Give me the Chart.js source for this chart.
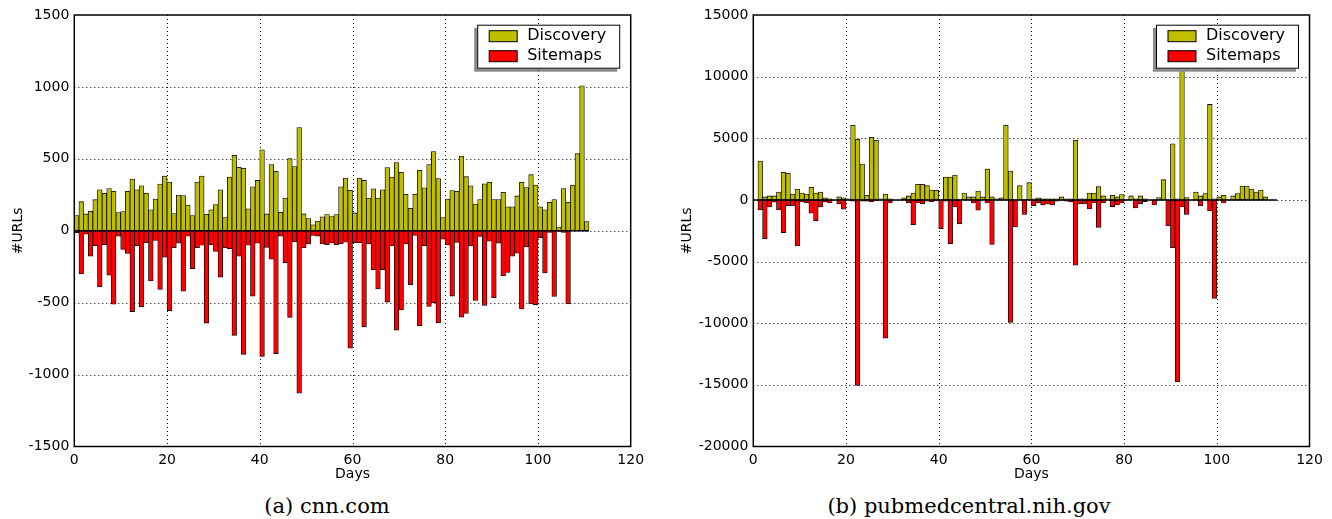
<!DOCTYPE html>
<html>
<head>
<meta charset="utf-8">
<title>Discovery vs Sitemaps</title>
<script src="https://cdn.jsdelivr.net/npm/chart.js@4.4.0/dist/chart.umd.min.js"></script>
<style>
    html, body { margin: 0; padding: 0; background: #fff; }
    body { width: 1332px; height: 519px; position: relative; overflow: hidden; }
    .panel { position: absolute; top: 0; height: 490px; }
    .caption {
        position: absolute;
        top: 494px;
        font-family: "DejaVu Serif", serif;
        font-size: 21px;
        color: #000;
        white-space: nowrap;
        transform: translateX(-50%);
    }
</style>
</head>
<body>
<div class="panel" style="left:0;width:660px"><canvas id="cnn-chart" width="660" height="490"></canvas></div>
<div class="panel" style="left:666px;width:666px"><canvas id="pmc-chart" width="666" height="490"></canvas></div>
<div class="caption" style="left:327px">(a) cnn.com</div>
<div class="caption" style="left:969px">(b) pubmedcentral.nih.gov</div>

<script>
// (a) cnn.com - URLs per day, day 0..110
const cnnDiscovery = [
    105, 202, 117, 136, 216, 285, 260, 294, 274, 126,
    133, 274, 359, 285, 313, 260, 145, 221, 324, 380,
    338, 120, 248, 244, 179, 106, 338, 380, 115, 145,
    182, 285, 92, 373, 524, 442, 435, 152, 306, 350,
    563, 117, 460, 414, 129, 228, 501, 446, 718, 117,
    85, 41, 67, 97, 113, 99, 113, 306, 366, 281,
    124, 366, 350, 228, 292, 228, 285, 439, 373, 474,
    407, 253, 156, 253, 421, 299, 460, 550, 363, 92,
    221, 280, 274, 520, 376, 312, 185, 217, 326, 337,
    217, 217, 267, 166, 166, 242, 337, 301, 390, 317,
    166, 146, 198, 217, 25, 294, 198, 317, 536, 1008,
    64
];
const cnnSitemaps = [
    -14, -300, -24, -177, -104, -389, -97, -309, -510, -38,
    -130, -158, -562, -104, -529, -83, -349, -68, -408, -184,
    -555, -118, -87, -420, -38, -264, -118, -101, -642, -97,
    -144, -323, -118, -125, -727, -177, -859, -101, -455, -87,
    -873, -116, -198, -854, -38, -222, -602, -78, -1130, -118,
    -92, -33, -38, -92, -97, -85, -97, -90, -80, -817,
    -83, -83, -668, -92, -271, -404, -271, -496, -104, -691,
    -550, -92, -375, -33, -661, -104, -526, -500, -640, -59,
    -99, -454, -82, -601, -575, -105, -485, -40, -520, -72,
    -466, -86, -312, -289, -177, -156, -543, -112, -508, -515,
    -49, -294, -12, -457, -5, -12, -508, 0, 0, 0,
    0
];

// (b) pubmedcentral.nih.gov - URLs per day, day 0..112
const pmcDiscovery = [
    0, 3147, 242, 323, 323, 646, 2233, 2152, 484, 888,
    565, 484, 1022, 565, 646, 161, 81, 0, 242, 161,
    81, 6053, 4923, 2905, 377, 5084, 4842, 81, 484, 81,
    0, 0, 161, 323, 565, 1264, 1264, 1157, 807, 780,
    50, 1856, 1856, 2018, 50, 565, 242, 242, 726, 242,
    2502, 242, 81, 161, 6053, 2340, 50, 1157, 50, 1399,
    81, 161, 81, 81, 81, 81, 242, 81, 81, 4842,
    81, 81, 565, 565, 1076, 323, 81, 377, 242, 430,
    50, 323, 81, 323, 81, 0, 0, 188, 1641, 0,
    4546, 81, 12000, 188, 0, 646, 323, 511, 7747, 81,
    242, 377, 30, 323, 511, 1130, 1130, 888, 646, 807,
    242, 0, 0
];
const pmcSitemaps = [
    0, -807, -3147, -565, -188, -807, -2663, -457, -484, -3739,
    -161, -242, -1076, -1695, -565, -161, -242, 0, -323, -753,
    0, -100, -15037, -100, -100, -161, -50, 0, -11217, -242,
    0, 0, 0, -242, -2018, -242, -323, -100, -161, -50,
    -2340, -100, -3551, -565, -1937, 0, 0, -242, -834, 0,
    -242, -3605, 0, 0, 0, -9926, -2179, 0, -1184, 0,
    -457, -242, -403, -323, -403, -100, 0, -100, -161, -5300,
    -323, -323, -726, -242, -2233, -242, 0, -538, -403, -242,
    0, 0, -645, -296, -134, 0, -403, 0, 0, -2098,
    -3874, -14768, -565, -1184, 0, 0, -484, 0, -888, -7989,
    0, -242, 0, 0, 0, 0, 0, 0, 0, 0,
    0, 0, 0
];

const dayTicks = [0, 120, 20];             // min, max, step
const cnnYTicks = [-1500, 1500, 500];
const pmcYTicks = [-20000, 15000, 5000];
const seriesLabels = ['Discovery', 'Sitemaps'];
const seriesColors = ['#bfbf00', '#ff0000'];

const tickFont = { family: 'DejaVu Sans', size: 14 };
const PLOT_BOTTOM = 446.5;

/**
 * Dotted grid, zero line, frame and the boxed legend
 */
const decorations = {
    id: 'decorations',
    beforeDatasetsDraw(chart) {
        const { ctx, chartArea: a, scales: { x, y } } = chart;
        ctx.save();
        ctx.strokeStyle = '#000';
        ctx.lineWidth = 1;
        ctx.setLineDash([1, 3]);
        y.ticks.forEach(t => {
            if (t.value <= y.min || t.value >= y.max) return;
            const py = Math.round(y.getPixelForValue(t.value)) + 0.5;
            ctx.beginPath();
            ctx.moveTo(a.left, py);
            ctx.lineTo(a.right, py);
            ctx.stroke();
        });
        x.ticks.forEach(t => {
            if (t.value <= x.min || t.value >= x.max) return;
            const px = Math.round(x.getPixelForValue(t.value)) + 0.5;
            ctx.beginPath();
            ctx.moveTo(px, a.top);
            ctx.lineTo(px, a.bottom);
            ctx.stroke();
        });
        ctx.restore();
    },
    afterDatasetsDraw(chart) {
        const { ctx, scales: { x, y } } = chart;
        const n = chart.data.datasets[0].data.length;
        const py = y.getPixelForValue(0);
        ctx.save();
        ctx.strokeStyle = '#000';
        ctx.lineWidth = 1.5;
        ctx.beginPath();
        ctx.moveTo(x.getPixelForValue(0), py);
        ctx.lineTo(x.getPixelForValue(n), py);
        ctx.stroke();
        ctx.restore();
    },
    afterDraw(chart) {
        const { ctx, chartArea: a } = chart;
        ctx.save();
        ctx.strokeStyle = '#000';
        ctx.lineWidth = 1.5;
        ctx.strokeRect(a.left, a.top, a.right - a.left, a.bottom - a.top);

        // legend box, shadow falls to the lower left
        const w = 143, h = 44;
        const bx = a.right - 10.5 - w;
        const by = a.top + 9.7;
        ctx.fillStyle = '#8a8a8a';
        ctx.fillRect(bx - 3, by + 3, w, h);
        ctx.fillStyle = '#fff';
        ctx.fillRect(bx, by, w, h);
        ctx.lineWidth = 1;
        ctx.strokeRect(bx + 0.5, by + 0.5, w - 1, h - 1);

        ctx.font = '16px "DejaVu Sans"';
        ctx.textBaseline = 'middle';
        chart.data.datasets.forEach((ds, i) => {
            const sy = by + 6 + i * 20;
            ctx.fillStyle = ds.backgroundColor;
            ctx.fillRect(bx + 12, sy, 28, 11);
            ctx.strokeRect(bx + 12, sy, 28, 11);
            ctx.fillStyle = '#000';
            ctx.fillText(ds.label, bx + 50, sy + 5.5);
        });
        ctx.restore();
    }
};

/**
 * Build one of the two panels
 */
function makePanel(canvasId, discovery, sitemaps, yTicks, yAxisWidth, rightPad, yTitlePad) {
    const series = [discovery, sitemaps];
    const canvas = document.getElementById(canvasId);

    return new Chart(canvas, {
        type: 'bar',
        data: {
            datasets: series.map((values, s) => ({
                label: seriesLabels[s],
                data: values.map((v, day) => ({ x: day + 0.5, y: v })),
                backgroundColor: seriesColors[s],
                borderColor: '#000',
                borderWidth: 0.8,
                borderSkipped: false,
                barPercentage: 1,
                categoryPercentage: 1
            }))
        },
        options: {
            responsive: false,
            animation: false,
            layout: { padding: { left: 0, right: rightPad, top: 15, bottom: 0 } },
            plugins: {
                legend: { display: false },
                tooltip: { enabled: false }
            },
            scales: {
                x: {
                    type: 'linear',
                    stacked: true,
                    offset: false,
                    min: dayTicks[0],
                    max: dayTicks[1],
                    ticks: {
                        stepSize: dayTicks[2],
                        padding: 5,
                        font: tickFont,
                        color: '#000',
                        callback: v => String(v)
                    },
                    grid: { display: false, drawTicks: false },
                    border: { display: false },
                    title: {
                        display: true,
                        text: 'Days',
                        font: tickFont,
                        color: '#000',
                        padding: { top: 0, bottom: 7 }
                    },
                    afterFit(scale) { scale.height = canvas.height - PLOT_BOTTOM; }
                },
                y: {
                    stacked: true,
                    min: yTicks[0],
                    max: yTicks[1],
                    ticks: {
                        stepSize: yTicks[2],
                        padding: 5,
                        font: tickFont,
                        color: '#000',
                        callback: v => String(v)
                    },
                    grid: { display: false, drawTicks: false },
                    border: { display: false },
                    title: {
                        display: true,
                        text: '#URLs',
                        font: tickFont,
                        color: '#000',
                        padding: { top: yTitlePad, bottom: 0 }
                    },
                    afterFit(scale) { scale.width = yAxisWidth; }
                }
            }
        },
        plugins: [decorations]
    });
}

makePanel('cnn-chart', cnnDiscovery, cnnSitemaps, cnnYTicks, 74.3, 29.3, 9.6);
makePanel('pmc-chart', pmcDiscovery, pmcSitemaps, pmcYTicks, 87.3, 22.5, 12.6);
</script>
</body>
</html>
